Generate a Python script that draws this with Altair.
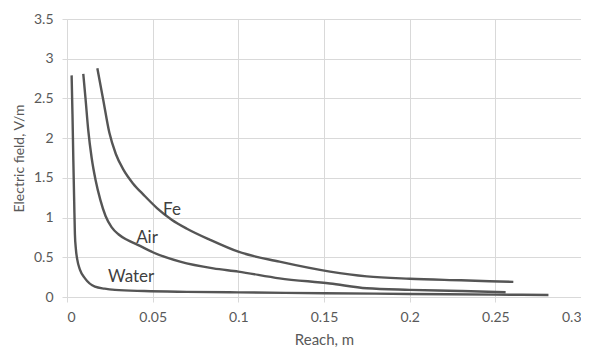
import altair as alt
import pandas as pd

water_x = [0.0027, 0.0032, 0.0037, 0.0042, 0.0046, 0.0052, 0.006, 0.0076, 0.0105, 0.0163, 0.022, 0.028, 0.045, 0.07, 0.1, 0.15, 0.2, 0.25, 0.281]
water_y = [2.79, 2.3, 1.72, 1.2, 0.8, 0.6, 0.47, 0.34, 0.235, 0.13, 0.105, 0.09, 0.075, 0.065, 0.058, 0.048, 0.038, 0.03, 0.025]

air_x = [0.0095, 0.0108, 0.0124, 0.0144, 0.0167, 0.0195, 0.0225, 0.026, 0.03, 0.035, 0.041, 0.0504, 0.066, 0.0854, 0.1, 0.124, 0.1535, 0.175, 0.2, 0.23, 0.256]
air_y = [2.81, 2.5, 2.1, 1.75, 1.47, 1.22, 1.02, 0.88, 0.79, 0.72, 0.66, 0.56, 0.445, 0.36, 0.32, 0.235, 0.17, 0.11, 0.09, 0.075, 0.06]

fe_x = [0.0177, 0.021, 0.0247, 0.0285, 0.033, 0.0385, 0.045, 0.0525, 0.0613, 0.07, 0.0835, 0.1, 0.124, 0.1535, 0.175, 0.2, 0.23, 0.2605]
fe_y = [2.88, 2.5, 2.07, 1.8, 1.6, 1.43, 1.28, 1.12, 0.97, 0.86, 0.72, 0.57, 0.445, 0.32, 0.26, 0.23, 0.21, 0.19]

label_text = ["Fe", "Air", "Water"]
label_x = [0.0613, 0.0467, 0.0374]
label_y = [1.1, 0.74, 0.25]

x_ticks = [0, 0.05, 0.1, 0.15, 0.2, 0.25, 0.3]
y_ticks = [0, 0.5, 1, 1.5, 2, 2.5, 3, 3.5]

rows = []
for name, xs, ys in [("Water", water_x, water_y), ("Air", air_x, air_y), ("Fe", fe_x, fe_y)]:
    for i, (a, b) in enumerate(zip(xs, ys)):
        rows.append({"series": name, "x": a, "y": b, "i": i})
df = pd.DataFrame(rows)
labels = pd.DataFrame({"t": label_text, "x": label_x, "y": label_y})

FONT = "Lato"
GRID = "#d9d9d9"

xscale = alt.Scale(domain=[0, 0.3], nice=False, zero=False)
yscale = alt.Scale(domain=[0, 3.5], nice=False)

xaxis = alt.Axis(values=x_ticks, labelExpr="format(datum.value, '~g')", title="Reach, m",
                 grid=True, gridColor=GRID, domainColor=GRID, tickColor=GRID, tickSize=5,
                 labelColor="#595959", labelFont=FONT, labelFontSize=14, labelPadding=8,
                 labelOverlap=False,
                 titleFont=FONT, titleFontSize=15, titleColor="#595959", titleFontWeight="normal",
                 titlePadding=8)
yaxis = alt.Axis(values=y_ticks, labelExpr="format(datum.value, '~g')", title="Electric field, V/m",
                 grid=True, gridColor=GRID, domainColor=GRID, tickColor=GRID, tickSize=5,
                 labelColor="#595959", labelFont=FONT, labelFontSize=14, labelPadding=9,
                 labelOverlap=False,
                 titleFont=FONT, titleFontSize=14, titleColor="#595959", titleFontWeight="normal",
                 titlePadding=7)

lines = alt.Chart(df).mark_line(color="#555555", strokeWidth=2.4, interpolate="monotone").encode(
    x=alt.X("x:Q", scale=xscale, axis=xaxis),
    y=alt.Y("y:Q", scale=yscale, axis=yaxis),
    detail="series:N",
    order="i:Q",
)

text = alt.Chart(labels).mark_text(font=FONT, fontSize=17, color="#404040").encode(
    x=alt.X("x:Q", scale=xscale, axis=xaxis),
    y=alt.Y("y:Q", scale=yscale, axis=yaxis),
    text="t:N",
)

chart = (lines + text).properties(
    width=514, height=278,
    autosize=alt.AutoSizeParams(type="none"),
    padding={"left": 59, "top": 11, "right": 0, "bottom": 53},
).configure_view(stroke=None)

chart.save("out.html", embed_options={"renderer": "svg", "actions": False})
